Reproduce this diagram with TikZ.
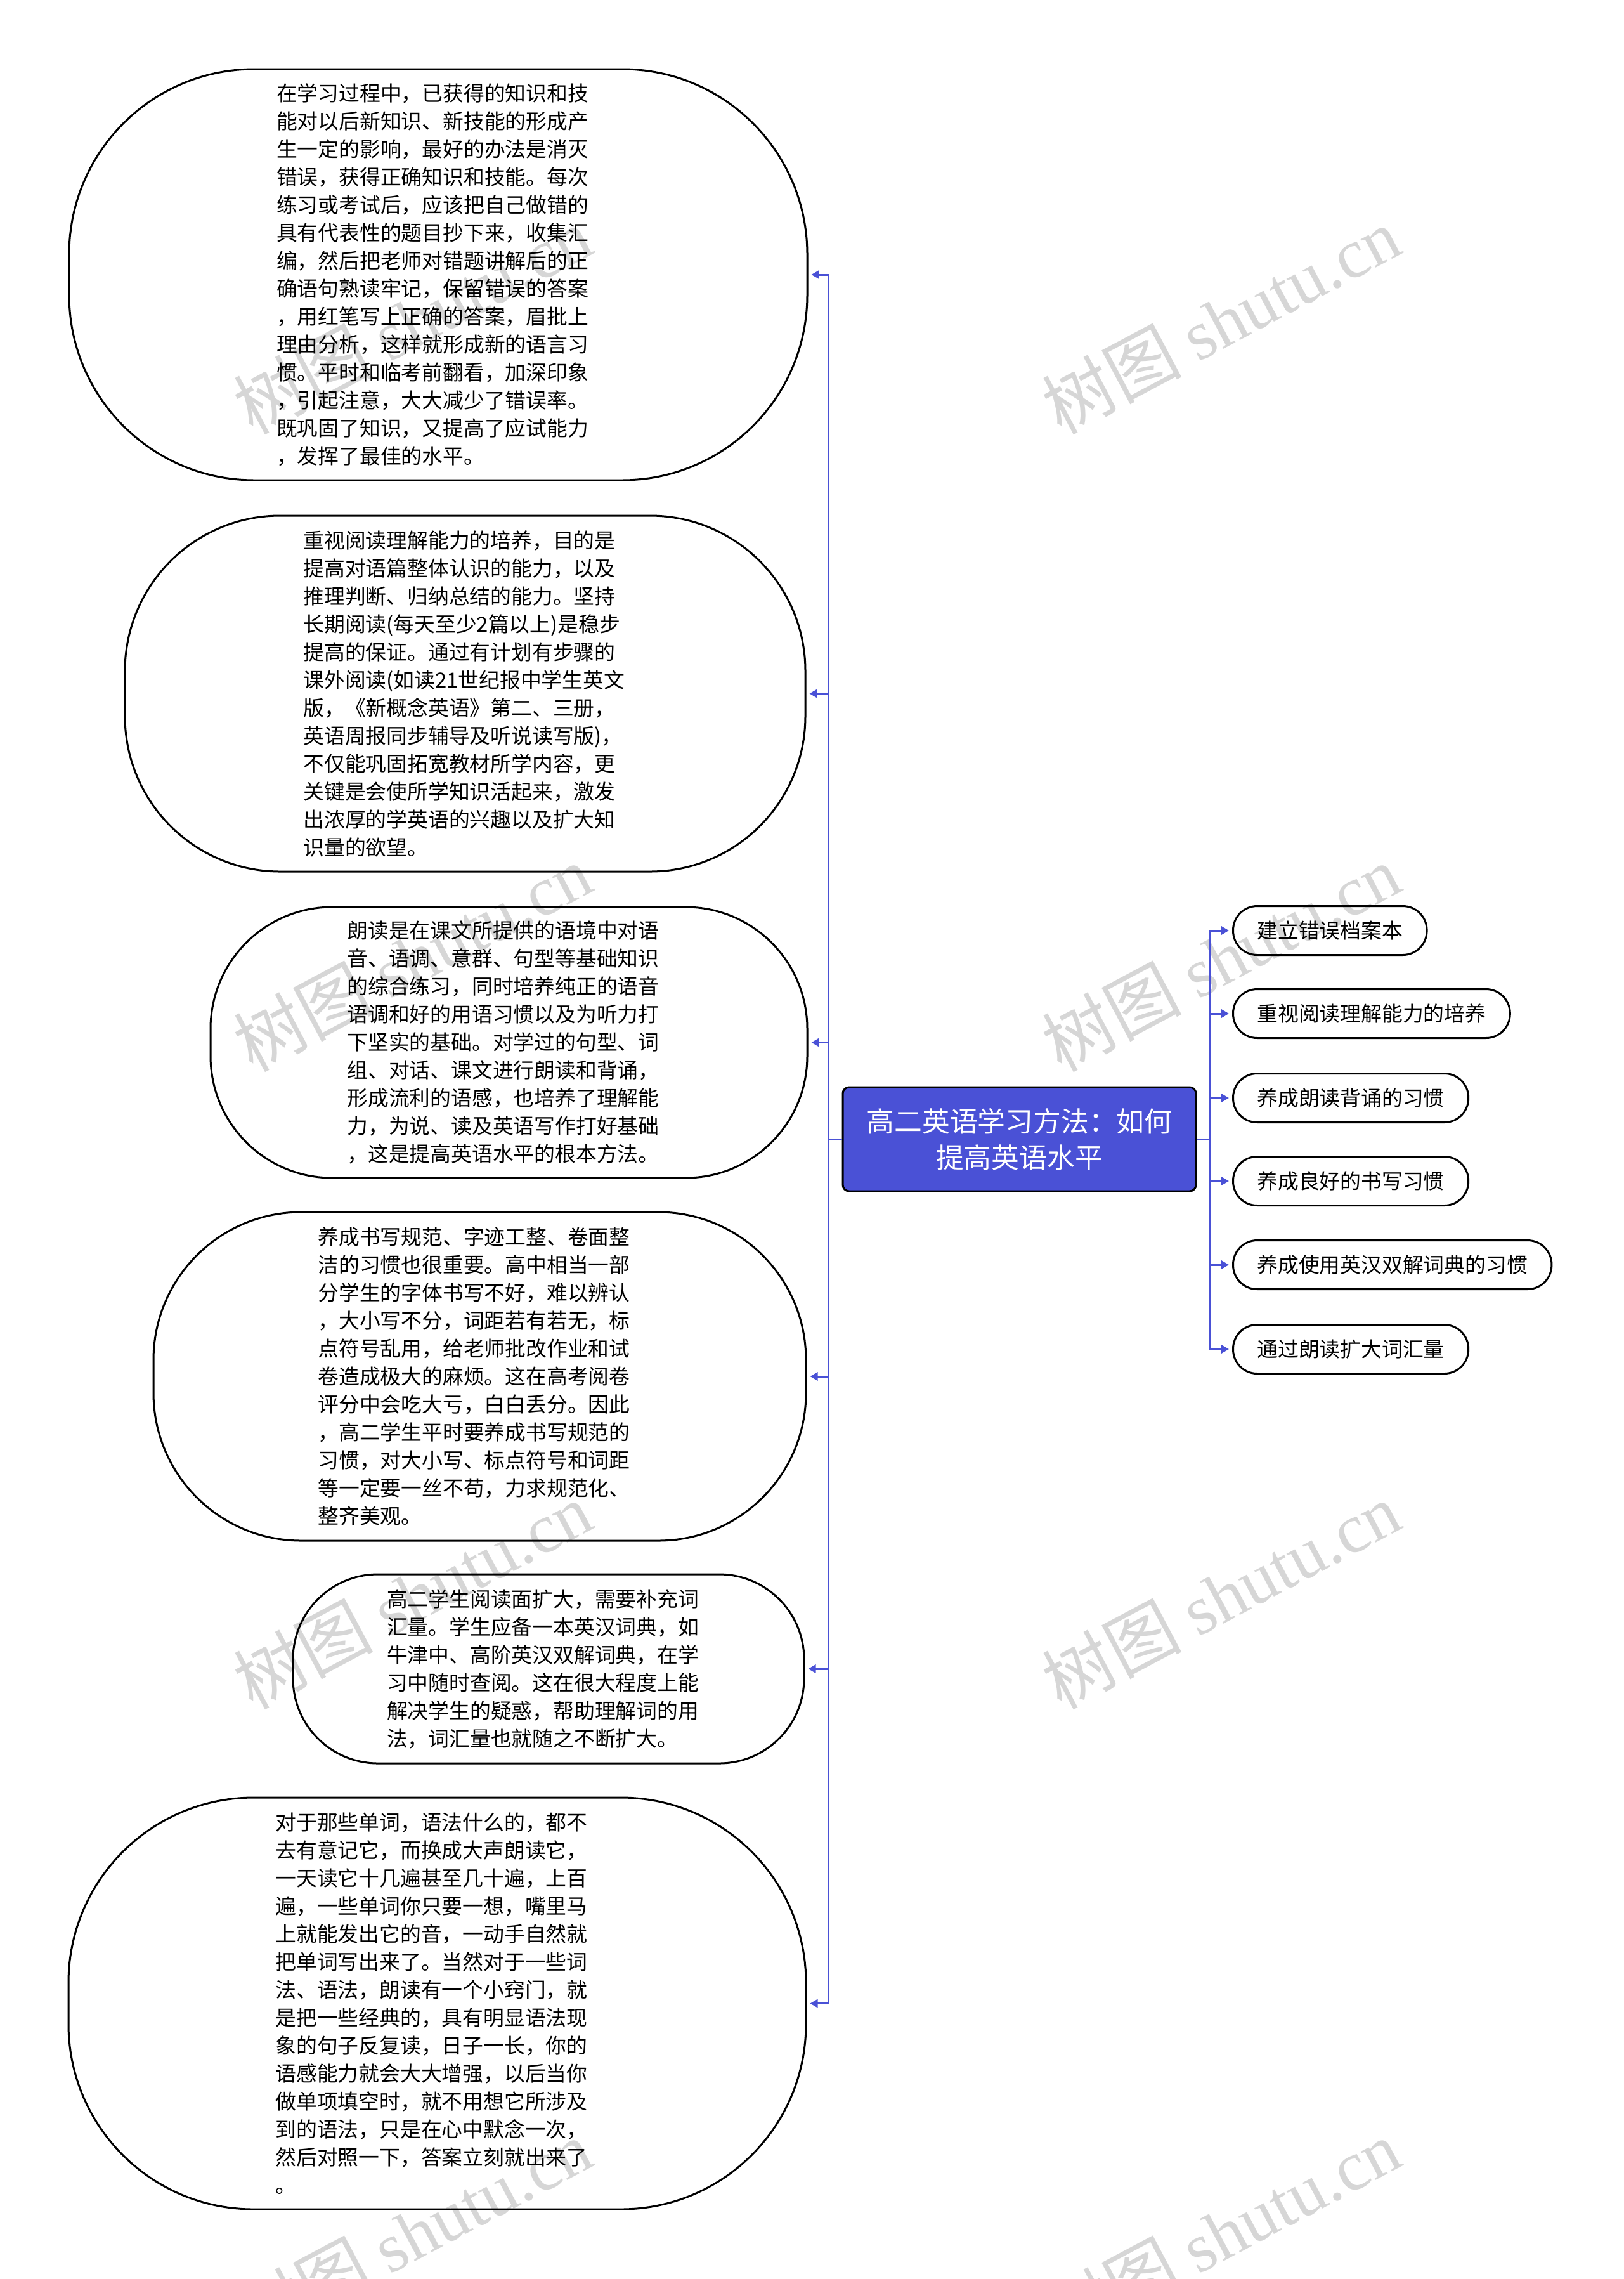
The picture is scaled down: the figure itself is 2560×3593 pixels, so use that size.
\documentclass[tikz,border=0pt]{standalone}
\usepackage{fontspec}
\setmainfont{Noto Sans CJK SC}
\newfontfamily\wmlatin{Liberation Serif}
\usetikzlibrary{arrows.meta}
\definecolor{mainblue}{RGB}{74,81,214}
\definecolor{wmgray}{RGB}{214,214,214}
\begin{document}
\begin{tikzpicture}[x=1pt,y=-1pt,
  leaf/.style={draw=black, line width=3pt, align=left, text width=510pt, inner sep=0pt,
    font=\fontsize{32.8pt}{44pt}\selectfont},
  childbox/.style={draw=black, line width=3pt, rounded corners=38pt, minimum height=77pt,
    inner xsep=38pt, inner ysep=0pt, anchor=west, font=\fontsize{32.8pt}{40pt}\selectfont},
  rootbox/.style={draw=black, line width=3pt, fill=mainblue, rounded corners=10pt,
    minimum width=557pt, minimum height=164pt, text=white, align=center,
    font=\fontsize{43.8pt}{57pt}\selectfont},
  conn/.style={draw=mainblue, line width=3pt, -{Triangle[length=12pt,width=13pt]}, shorten >=5pt},
  wm/.style={rotate=28, text=wmgray, font=\fontsize{110pt}{120pt}\selectfont}
]
\useasboundingbox (0,0) rectangle (2560,3593);

% watermarks
\foreach \wx in {650,1925}{
  \foreach \wy in {505,1510,2515,3520}{
    \node[wm] (wm-\wx-\wy) at (\wx,\wy) {树图 {\wmlatin shutu.cn}};
  }
}

% root
\node[rootbox] (C) at (1607.5,1796) {高二英语学习方法：如何\\提高英语水平};

% right children
\node[childbox] (R1) at (1943,1467) {建立错误档案本};
\node[childbox] (R2) at (1943,1598) {重视阅读理解能力的培养};
\node[childbox] (R3) at (1943,1731) {养成朗读背诵的习惯};
\node[childbox] (R4) at (1943,1862) {养成良好的书写习惯};
\node[childbox] (R5) at (1943,1994) {养成使用英汉双解词典的习惯};
\node[childbox] (R6) at (1943,2127) {通过朗读扩大词汇量};

% left leaves
\node[leaf, minimum width=1164pt, minimum height=648pt, rounded corners=292pt] (L1) at (691,433) {在学习过程中，已获得的知识和技\\能对以后新知识、新技能的形成产\\生一定的影响，最好的办法是消灭\\错误，获得正确知识和技能。每次\\练习或考试后，应该把自己做错的\\具有代表性的题目抄下来，收集汇\\编，然后把老师对错题讲解后的正\\确语句熟读牢记，保留错误的答案\\，用红笔写上正确的答案，眉批上\\理由分析，这样就形成新的语言习\\惯。平时和临考前翻看，加深印象\\，引起注意，大大减少了错误率。\\既巩固了知识，又提高了应试能力\\，发挥了最佳的水平。};

\node[leaf, minimum width=1073pt, minimum height=561pt, rounded corners=245pt] (L2) at (733.5,1093.5) {重视阅读理解能力的培养，目的是\\提高对语篇整体认识的能力，以及\\推理判断、归纳总结的能力。坚持\\长期阅读(每天至少2篇以上)是稳步\\提高的保证。通过有计划有步骤的\\课外阅读(如读21世纪报中学生英文\\版，《新概念英语》第二、三册，\\英语周报同步辅导及听说读写版)，\\不仅能巩固拓宽教材所学内容，更\\关键是会使所学知识活起来，激发\\出浓厚的学英语的兴趣以及扩大知\\识量的欲望。};

\node[leaf, minimum width=941pt, minimum height=427pt, rounded corners=192pt] (L3) at (802.5,1643.5) {朗读是在课文所提供的语境中对语\\音、语调、意群、句型等基础知识\\的综合练习，同时培养纯正的语音\\语调和好的用语习惯以及为听力打\\下坚实的基础。对学过的句型、词\\组、对话、课文进行朗读和背诵，\\形成流利的语感，也培养了理解能\\力，为说、读及英语写作打好基础\\，这是提高英语水平的根本方法。};

\node[leaf, minimum width=1029pt, minimum height=518pt, rounded corners=233pt] (L4) at (756.5,2170) {养成书写规范、字迹工整、卷面整\\洁的习惯也很重要。高中相当一部\\分学生的字体书写不好，难以辨认\\，大小写不分，词距若有若无，标\\点符号乱用，给老师批改作业和试\\卷造成极大的麻烦。这在高考阅卷\\评分中会吃大亏，白白丢分。因此\\，高二学生平时要养成书写规范的\\习惯，对大小写、标点符号和词距\\等一定要一丝不苟，力求规范化、\\整齐美观。};

\node[leaf, minimum width=806pt, minimum height=298pt, rounded corners=134pt] (L5) at (865,2631) {高二学生阅读面扩大，需要补充词\\汇量。学生应备一本英汉词典，如\\牛津中、高阶英汉双解词典，在学\\习中随时查阅。这在很大程度上能\\解决学生的疑惑，帮助理解词的用\\法，词汇量也就随之不断扩大。};

\node[leaf, minimum width=1163pt, minimum height=649pt, rounded corners=292pt] (L6) at (689.5,3158.5) {对于那些单词，语法什么的，都不\\去有意记它，而换成大声朗读它，\\一天读它十几遍甚至几十遍，上百\\遍，一些单词你只要一想，嘴里马\\上就能发出它的音，一动手自然就\\把单词写出来了。当然对于一些词\\法、语法，朗读有一个小窍门，就\\是把一些经典的，具有明显语法现\\象的句子反复读，日子一长，你的\\语感能力就会大大增强，以后当你\\做单项填空时，就不用想它所涉及\\到的语法，只是在心中默念一次，\\然后对照一下，答案立刻就出来了\\。};

% connectors
\foreach \k in {R1,R2,R3,R4,R5,R6}{
  \draw[conn] (C.east) -- ++(21,0) |- (\k.west);
}
\foreach \k in {L1,L2,L3,L4,L5,L6}{
  \draw[conn] (C.west) -- ++(-21,0) |- (\k.east);
}
\end{tikzpicture}
\end{document}
